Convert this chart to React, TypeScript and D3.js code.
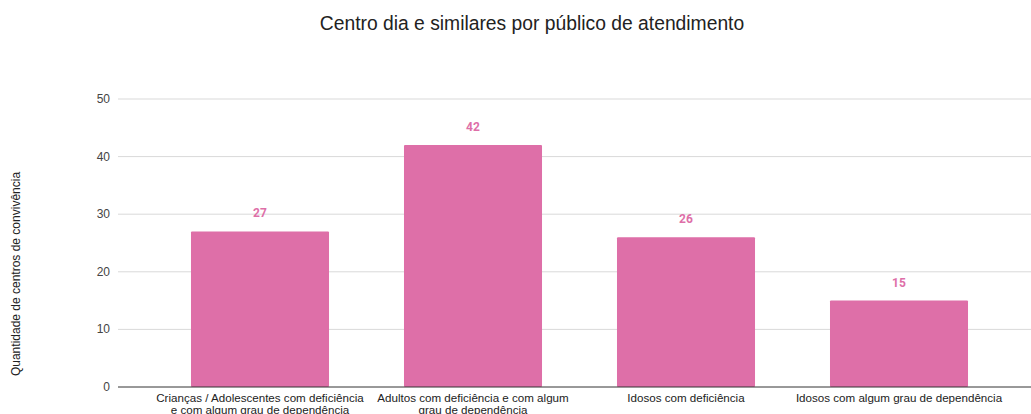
import React from "react";
import * as d3 from "d3";

const categories: string[][] = [
  ["Crianças / Adolescentes com deficiência", "e com algum grau de dependência"],
  ["Adultos com deficiência e com algum", "grau de dependência"],
  ["Idosos com deficiência"],
  ["Idosos com algum grau de dependência"],
];
const values = [27, 42, 26, 15];
const yTicks = [0, 10, 20, 30, 40, 50];
const title = "Centro dia e similares por público de atendimento";
const yTitle = "Quantidade de centros de convivência";

export default function App() {
  const W = 1031, H = 414;
  const keys = categories.map((c) => c.join(" "));
  const x = d3.scaleBand<string>().domain(keys).range([153.5, 1005.5]).paddingInner(0.352).paddingOuter(0.176);
  const y = d3.scaleLinear().domain([0, 50]).range([387, 99]);
  const color = "#DE6FA8";
  const font = "Arial, 'Liberation Sans', sans-serif";
  return (
    <svg width={W} height={H} style={{ position: "absolute", left: 0, top: 0 }} fontFamily={font}>
      <rect width={W} height={H} fill="#fff" />
      <text x={532} y={30} textAnchor="middle" fontSize={19.3} fill="#222">{title}</text>
      {yTicks.map((t) => (
        <g key={t}>
          {t !== 0 && <line x1={118} x2={W} y1={y(t)} y2={y(t)} stroke="#d9d9d9" strokeWidth={1} />}
          <text x={110} y={y(t) + 4} textAnchor="end" fontSize={12} fill="#444">{t}</text>
        </g>
      ))}
      <text transform={`translate(20,${274}) rotate(-90)`} textAnchor="middle" fontSize={12} fill="#222">{yTitle}</text>
      {values.map((v, i) => {
        const bx = x(keys[i])!;
        const bw = x.bandwidth();
        return (
          <g key={i}>
            <rect x={bx} y={y(v)} width={bw} height={y(0) - y(v)} fill={color} rx={1} />
            <text x={bx + bw / 2} y={y(v) - 14} textAnchor="middle" fontSize={12} fontWeight="bold" fill={color} fontFamily="Roboto, Arial, sans-serif">{v}</text>
            {categories[i].map((line, j) => (
              <text key={j} x={bx + bw / 2} y={402 + j * 11.5} textAnchor="middle" fontSize={11.6} fill="#222">{line}</text>
            ))}
          </g>
        );
      })}
      <line x1={118} x2={W} y1={y(0)} y2={y(0)} stroke="#333" strokeWidth={1} />
    </svg>
  );
}
